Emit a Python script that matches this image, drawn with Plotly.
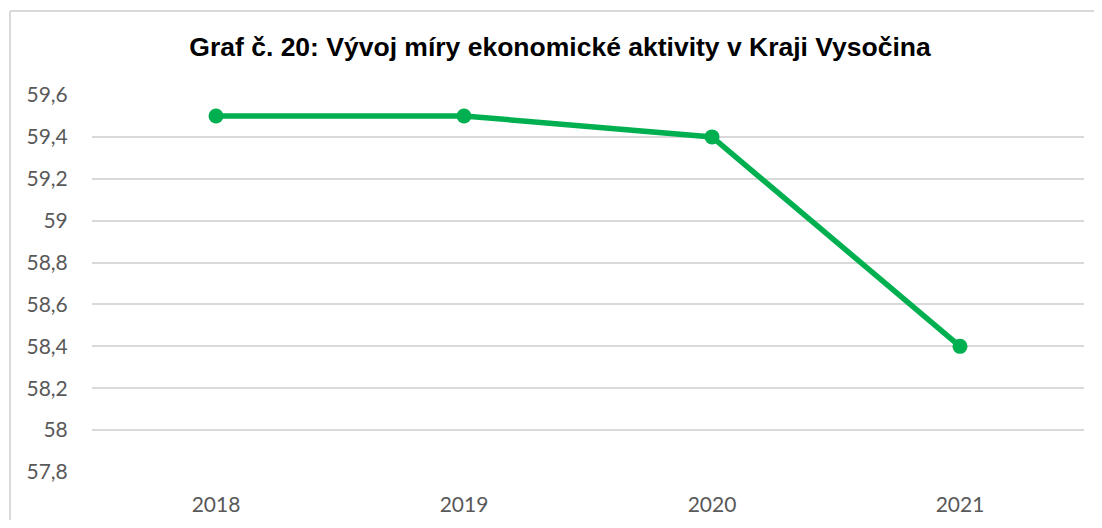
import plotly.graph_objects as go

years = ["2018", "2019", "2020", "2021"]
values = [59.5, 59.5, 59.4, 58.4]
title_text = "Graf č. 20: Vývoj míry ekonomické aktivity v Kraji Vysočina"

# page body has an 8px margin on every side; keep the figure inside the window
OFF = 8
W, H = 1102 - 2 * OFF, 528 - 2 * OFF
L, T = 92 - OFF, 95 - OFF
R = W - (1084 - OFF)
B = H - (472 - OFF)
pw, ph = W - L - R, H - T - B

bx = (10 - OFF - L) / pw
by = (H - B - (11 - OFF)) / ph

fig = go.Figure()
fig.add_trace(go.Scatter(
    x=years, y=values, mode="lines+markers",
    line=dict(color="#00B050", width=5.5),
    marker=dict(color="#00B050", size=15),
    showlegend=False,
))

fig.update_layout(
    width=W, height=H,
    margin=dict(l=L, r=R, t=T, b=B, autoexpand=False),
    paper_bgcolor="white", plot_bgcolor="white",
    separators=", ",
    title=dict(text="<b>" + title_text + "</b>", x=(560 - OFF) / W, xanchor="center",
               y=1 - (47 - OFF) / H, yanchor="middle",
               font=dict(family="Liberation Sans, Arial", size=26.5, color="#000000")),
    font=dict(family="Lato, Carlito, Calibri, sans-serif", size=21, color="#595959"),
    xaxis=dict(type="category", range=[-0.5, 3.5], showgrid=False, zeroline=False,
               showline=False, ticks="outside", ticklen=14, tickcolor="rgba(0,0,0,0)",
               tickfont=dict(size=21, color="#595959"), automargin=False),
    yaxis=dict(range=[57.8, 59.6], dtick=0.2, tick0=57.8, showgrid=True,
               gridcolor="#D9D9D9", gridwidth=1.5, zeroline=False, showline=False,
               ticks="outside", ticklen=19, tickcolor="rgba(0,0,0,0)",
               tickfont=dict(size=21, color="#595959"), automargin=False),
    shapes=[
        dict(type="line", xref="paper", yref="paper", x0=bx, x1=bx, y0=-0.5, y1=by,
             line=dict(color="#D9D9D9", width=2), layer="below"),
        dict(type="line", xref="paper", yref="paper", x0=bx, x1=1.2, y0=by, y1=by,
             line=dict(color="#D9D9D9", width=2), layer="below"),
    ],
)

fig.write_html(
    "out.html",
    config={"displayModeBar": False},
    post_script="document.documentElement.style.overflow='hidden';document.body.style.overflow='hidden';",
)
